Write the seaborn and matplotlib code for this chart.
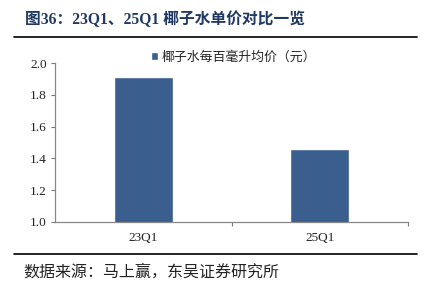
import matplotlib
matplotlib.use("Agg")
import matplotlib.pyplot as plt
import seaborn as sns
import pandas as pd
from matplotlib.lines import Line2D

categories = ["23Q1", "25Q1"]
values = [1.91, 1.46]
series_name = "椰子水每百毫升均价（元）"
yticks = [1.0, 1.2, 1.4, 1.6, 1.8, 2.0]

sns.set_theme(style="white")
plt.rcParams['font.family'] = ['Liberation Serif', 'Noto Sans CJK SC', 'DejaVu Sans']

df = pd.DataFrame({"q": categories, "v": values})

fig = plt.figure(figsize=(4.34, 2.95), dpi=100)
ax = fig.add_axes([55/434, 1-222/295, (408-55)/434, (222-63)/295])
sns.barplot(data=df, x="q", y="v", color="#3A5F8F", width=0.335, ax=ax,
            saturation=1, label=series_name)
ax.set_ylim(1.0, 2.0)
ax.set_xlim(-0.5, 1.5)
ax.set_yticks(yticks)
ax.set_yticklabels([f"{t:.1f}" for t in yticks], fontsize=9.5, color="#222222")
ax.set_xticks([0, 1])
ax.set_xticklabels(categories, fontsize=9.5, color="#222222")
ax.tick_params(axis='x', length=0, pad=7)
ax.tick_params(axis='y', length=3, width=0.8, color="#777777", direction='out', left=True, pad=3)
ax.set_xticks([0.5, 1.5], minor=True)
ax.tick_params(axis='x', which='minor', length=3, width=0.8, color="#777777", direction='out', bottom=True)
for s in ["top", "right"]:
    ax.spines[s].set_visible(False)
for s in ["left", "bottom"]:
    ax.spines[s].set_color("#888888")
    ax.spines[s].set_linewidth(0.9)
ax.set_xlabel("")
ax.set_ylabel("")

leg = ax.legend(loc="center left", frameon=False,
                handlelength=0.55, handleheight=0.55, handletextpad=0.25,
                borderaxespad=0, borderpad=0,
                prop={'family': ['Noto Sans CJK SC'], 'size': 9.3})
leg.set_bbox_to_anchor((151/434, 1-57/295), transform=fig.transFigure)

fig.text(25/434, 1-20/295, "图36：23Q1、25Q1 椰子水单价对比一览", fontsize=11.3,
         fontweight='bold', color="#1F3864", va='center', ha='left',
         family=['Liberation Serif', 'Noto Sans CJK SC'])
fig.add_artist(Line2D([14/434, 417/434], [1-37/295, 1-37/295], color="black", lw=1.2))
fig.add_artist(Line2D([14/434, 417/434], [1-254/295, 1-254/295], color="black", lw=1.2))
fig.text(23/434, 1-272/295, "数据来源：马上赢，东吴证券研究所", fontsize=11.5,
         color="#222222", va='center', ha='left', family=['Noto Sans CJK SC'])

fig.savefig("out.png", dpi=100)
